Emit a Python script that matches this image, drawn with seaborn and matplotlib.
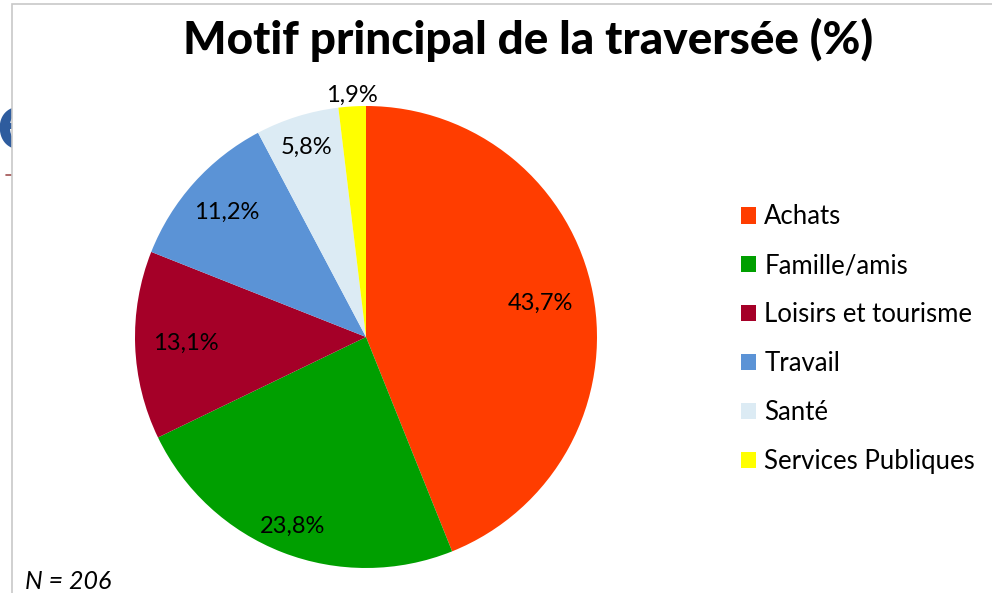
import numpy as np
import seaborn as sns
import matplotlib.pyplot as plt
from matplotlib.patches import Rectangle, Patch

sns.set_style("white")
plt.rcParams['font.family'] = ['Lato', 'DejaVu Sans']
plt.rcParams['text.color'] = 'black'

# data
motifs = ['Achats', 'Famille/amis', 'Loisirs et tourisme', 'Travail', 'Santé', 'Services Publiques']
pourcent = [43.7, 23.8, 13.1, 11.2, 5.8, 1.9]
labels_txt = ['43,7%', '23,8%', '13,1%', '11,2%', '5,8%', '1,9%']
couleurs = ['#FF3D00', '#009F00', '#A50028', '#5B93D6', '#DCEBF4', '#FFFF00']
dist_lab = [0.77, 0.88, 0.78, 0.81, 0.86, 1.05]

fig = plt.figure(figsize=(9.92, 5.93), dpi=100)

# bout de diapo derriere le cadre
fig.text(-0.004, 0.787, 'e', fontsize=60, fontweight='bold', color='#2E5C9E', va='center', zorder=-3)
fig.add_artist(plt.Line2D([0.006, 0.012], [0.705, 0.705], color='#A05050', lw=1.2, zorder=-3))
# cadre
fig.add_artist(Rectangle((12/992, -0.01), 1.0, 1 - 4/593 + 0.01, transform=fig.transFigure,
                         facecolor='white', edgecolor='#C8C8C8', lw=1.2, zorder=-1))

ax = fig.add_axes([(366 - 231) / 992, (593 - 568) / 593, 462 / 992, 462 / 593])
ax.patch.set_visible(False)
wedges, _ = ax.pie(pourcent, colors=couleurs, startangle=90, counterclock=False,
                   wedgeprops=dict(linewidth=0))
ax.set_xlim(-1, 1)
ax.set_ylim(-1, 1)
ax.set_aspect('equal')

for w, t, d in zip(wedges, labels_txt, dist_lab):
    a = np.deg2rad((w.theta1 + w.theta2) / 2)
    ax.text(d * np.cos(a), d * np.sin(a), t, ha='center', va='center', fontsize=17, color='black')

fig.text(0.532, 0.932, 'Motif principal de la traversée (%)', ha='center', va='center',
         fontsize=33, fontweight='black')

handles = [Patch(facecolor=c, edgecolor='none') for c in couleurs]
fig.legend(handles, motifs, loc='center left', bbox_to_anchor=(0.747, 0.428), frameon=False,
           fontsize=18.5, handlelength=0.6, handleheight=0.6, handletextpad=0.3, labelspacing=0.93,
           borderpad=0, borderaxespad=0)

fig.text(0.025, 0.02, 'N = 206', fontsize=18, style='italic', va='center')

plt.savefig('out.png', dpi=100)
